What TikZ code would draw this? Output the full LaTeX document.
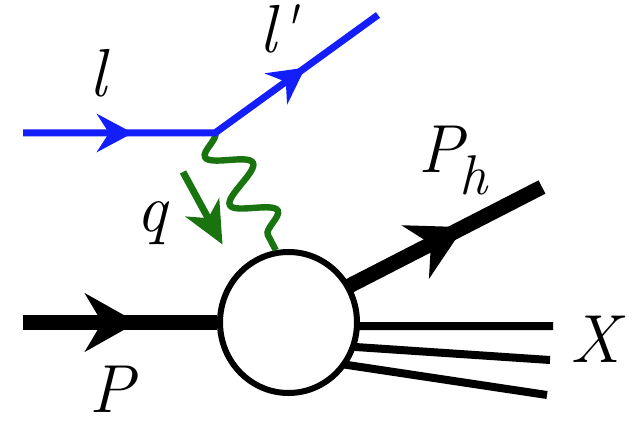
\documentclass[tikz,border=0pt]{standalone}
\usepackage{fontspec}
\usetikzlibrary{arrows.meta,shapes.geometric,decorations.pathmorphing,decorations.markings}

\definecolor{lblue}{RGB}{20,30,250}
\definecolor{pgreen}{RGB}{25,115,15}

\begin{document}
\begin{tikzpicture}[
  x=0.5pt, y=-0.5pt,
  lbl/.style={font={\rmfamily\fontsize{34}{40}\selectfont\itshape}, inner sep=0pt},
  lepton/.style={draw=lblue, line width=3.5pt},
  hadron/.style={draw=black, line width=7.5pt},
  jet/.style={draw=black, line width=4pt, shorten <=-1.5pt},
  photon/.style={draw=pgreen, line width=3.2pt, decorate,
    decoration={snake, segment length=27pt, amplitude=10pt, mirror}},
  blob/.style={ellipse, draw, line width=3pt, fill=white, inner sep=0pt,
    minimum width=68.5pt, minimum height=70.5pt}
]
\useasboundingbox (0,0) rectangle (632,422);

% vertices and free ends
\coordinate (lin) at (23,133);
\coordinate (vtx) at (215,133);
\coordinate (lout) at (378,15);
\coordinate (pin) at (23,322.5);
\coordinate (phend) at (542,187);
\coordinate (x1) at (553,326);
\coordinate (x2) at (550,360);
\coordinate (x3) at (547,395);
\coordinate (qa) at (183,172);
\coordinate (qb) at (222.5,244.5);

\node[blob] (blob) at (288.5,322.5) {};

% exchanged photon
\draw[photon] (vtx) -- (blob.100);
\draw[draw=pgreen, line width=3.5pt, -{Stealth[length=21pt,width=19pt,inset=6pt]}] (qa) -- (qb);

% lepton line
\draw[lepton, postaction={decorate}, decoration={markings,
    mark=at position 0.28 with {\arrow{Stealth[length=18pt,width=19pt,inset=6pt]}},
    mark=at position 0.7725 with {\arrow{Stealth[length=18pt,width=19pt,inset=6pt]}}}]
  (lin) -- (vtx) -- (lout);

% hadrons
\draw[hadron, postaction={decorate}, decoration={markings,
    mark=at position 0.588 with {\arrow{Stealth[length=26pt,width=29pt,inset=8.5pt]}}}]
  (pin) -- (blob);
\draw[hadron, shorten <=-1.5pt, postaction={decorate}, decoration={markings,
    mark=at position 0.593 with {\arrow{Stealth[length=27pt,width=29.5pt,inset=8.5pt]}}}]
  (blob.31) -- (phend);
\draw[jet] (blob.-3) -- (x1);
\draw[jet] (blob.-20) -- (x2);
\draw[jet] (blob.-36) -- (x3);

% labels
\node[lbl, anchor=base] (ll) at (98,97) {l};
\node[lbl, anchor=base west] (llp) at (259,53) {l\textquotesingle};
\node[lbl, anchor=base] (lq) at (152,232) {q};
\node[lbl, anchor=base] (lp) at (112,412) {P};
\node[lbl, anchor=base west] (lph) at (418,173) {P\kern-2pt\raisebox{-11pt}{\fontsize{28}{32}\selectfont h}};
\node[lbl, anchor=base west] (lx) at (570,363) {X};
\end{tikzpicture}
\end{document}
